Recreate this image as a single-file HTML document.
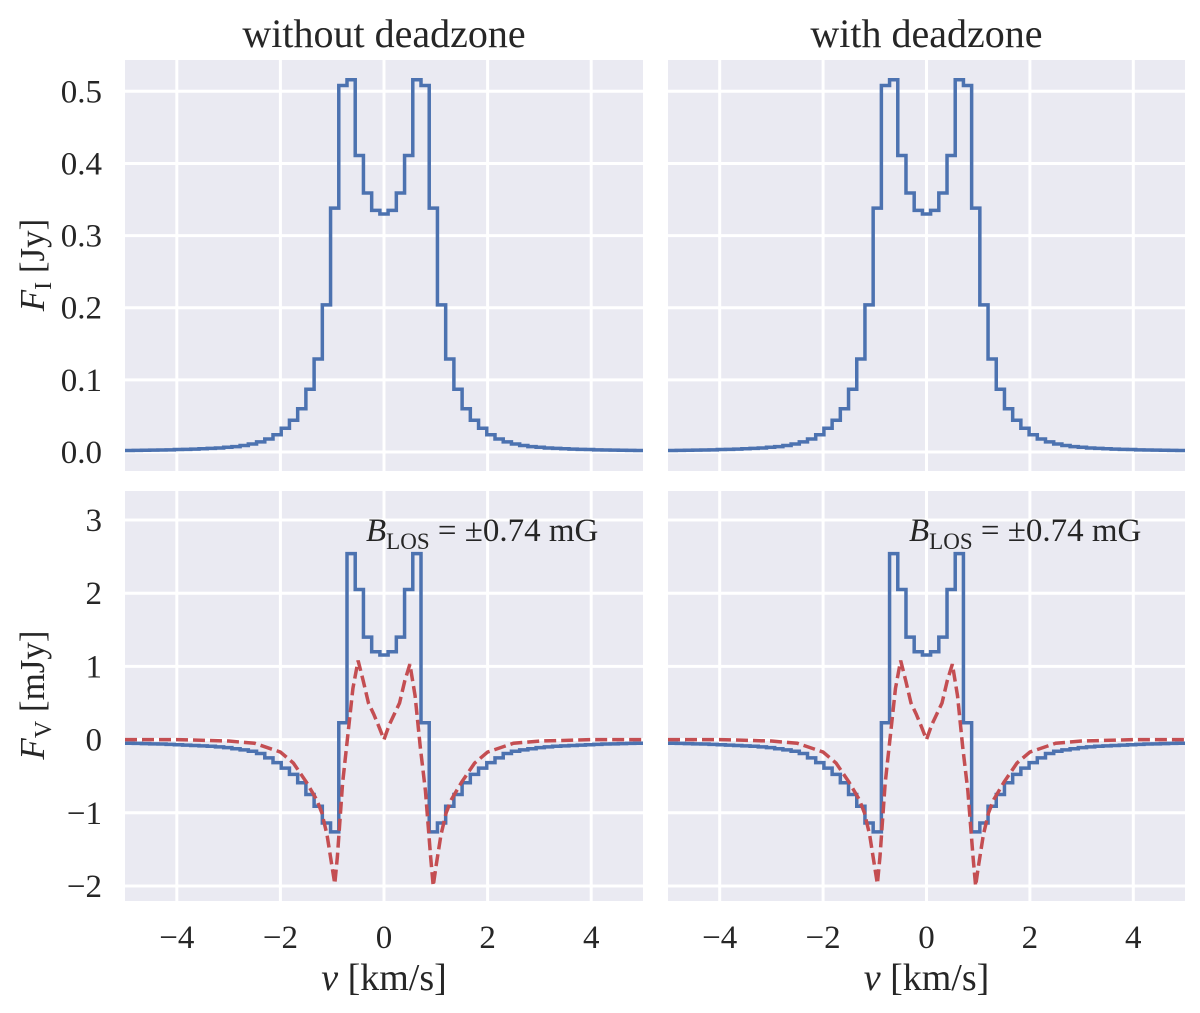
<!DOCTYPE html>
<html><head><meta charset="utf-8"><style>
html,body{margin:0;padding:0;background:#fff}
svg{display:block;font-family:"Liberation Serif",serif}
</style></head><body>
<svg id="chart" width="1200" height="1013" viewBox="0 0 1200 1013" xmlns="http://www.w3.org/2000/svg"></svg>
<script>
// ---- data ----
const binCount = 63;
const vMin = -5, vMax = 5;
// Stokes I flux per bin (Jy), bins k=-31..31
const fluxIHalf = [0.002,0.0022,0.0024,0.0026,0.0028,0.003,0.0034,0.0037,0.004,0.0045,0.005,0.0055,0.0065,0.0075,0.009,0.011,0.014,
  0.018,0.024,0.033,0.044,0.060,0.087,0.129,0.204,0.338,0.508,0.516,0.411,0.359,0.335];
const fluxICenter = 0.330;
// Stokes V flux per bin (mJy)
const fluxVHalf = [-0.05,-0.052,-0.055,-0.058,-0.06,-0.065,-0.07,-0.075,-0.08,-0.085,-0.09,-0.10,-0.11,-0.125,-0.14,-0.16,
  -0.19,-0.25,-0.315,-0.39,-0.475,-0.59,-0.75,-0.91,-1.14,-1.26,0.23,2.54,2.05,1.40,1.20];
const fluxVCenter = 1.155;
// dashed model curve (mJy)
const modelV = [-5,-4,-3,-2.5,-2,-1.75,-1.5,-1.3,-1.2,-1.1,-1.0,-0.95,-0.9,-0.8,-0.7,-0.6,-0.5,-0.4,-0.3,-0.2,-0.1,0,
  0.1,0.2,0.3,0.4,0.5,0.6,0.7,0.8,0.9,0.95,1.0,1.1,1.2,1.3,1.5,1.75,2,2.5,3,4,5];
const modelF = [0,0,-0.02,-0.05,-0.17,-0.32,-0.58,-0.82,-1.0,-1.3,-1.75,-1.97,-1.6,-0.6,0.05,0.7,1.08,0.8,0.5,0.35,0.18,0,
  0.2,0.35,0.5,0.8,1.03,0.6,-0.1,-0.7,-1.6,-2.0,-1.75,-1.3,-1.0,-0.82,-0.58,-0.32,-0.17,-0.05,-0.02,0,0];
const xTicks = [-4,-2,0,2,4];
const xTickLabels = ["\u22124","\u22122","0","2","4"];
const yTicksI = [0,0.1,0.2,0.3,0.4,0.5];
const yTickLabelsI = ["0.0","0.1","0.2","0.3","0.4","0.5"];
const yTicksV = [-2,-1,0,1,2,3];
const yTickLabelsV = ["\u22122","\u22121","0","1","2","3"];
const titles = ["without deadzone","with deadzone"];

const fluxI = fluxIHalf.concat([fluxICenter], fluxIHalf.slice().reverse());
const fluxV = fluxVHalf.concat([fluxVCenter], fluxVHalf.slice().reverse());

const NS="http://www.w3.org/2000/svg";
const svg=document.getElementById('chart');
function mk(tag,attrs,parent){const e=document.createElementNS(NS,tag);for(const k in attrs)e.setAttribute(k,attrs[k]);(parent||svg).appendChild(e);return e;}

const cols=[{x0:125,x1:643},{x0:668,x1:1185}];
const rows=[{y0:60,y1:471,zero:452,scale:721.4},{y0:491,y1:901,zero:739.6,scale:73.2}];

cols.forEach((c,ci)=>{
  const sx=v=>c.x0+(v-vMin)/(vMax-vMin)*(c.x1-c.x0);
  rows.forEach((r,ri)=>{
    const sy=v=>r.zero-v*r.scale;
    const g=mk('g',{});
    
    
    const clipId='clip'+ci+ri;
    const cp=mk('clipPath',{id:clipId},g);
    mk('rect',{x:c.x0,y:r.y0,width:c.x1-c.x0,height:r.y1-r.y0},cp);
    const bg=mk('rect',{x:c.x0,y:r.y0,width:c.x1-c.x0,height:r.y1-r.y0,fill:'#eaeaf2'},g);
    
    
    xTicks.forEach(t=>{const l=mk('line',{x1:sx(t),x2:sx(t),y1:r.y0,y2:r.y1,stroke:'#fff','stroke-width':3},g);
      });
    const yt=ri?yTicksV:yTicksI, yl=ri?yTickLabelsV:yTickLabelsI;
    yt.forEach((t,i)=>{const l=mk('line',{x1:c.x0,x2:c.x1,y1:sy(t),y2:sy(t),stroke:'#fff','stroke-width':3},g);
      
      if(ci===0){const tx=mk('text',{x:102,y:sy(t)+11,'text-anchor':'end','font-size':33,fill:'#262626'},g);tx.textContent=yl[i];
        }
    });
    const data=ri?fluxV:fluxI;
    const w=(vMax-vMin)/binCount;
    let d='';
    data.forEach((v,i)=>{const a=sx(vMin+i*w),b=sx(vMin+(i+1)*w),y=sy(v);d+=(i?'L':'M')+a.toFixed(2)+','+y.toFixed(2)+'L'+b.toFixed(2)+','+y.toFixed(2);});
    const p=mk('path',{d:d,fill:'none',stroke:'#4c72b0','stroke-width':3.5,'stroke-linejoin':'miter','clip-path':'url(#'+clipId+')'},g);
    
    
    if(ri===1){
      let dm='';modelV.forEach((v,i)=>{dm+=(i?'L':'M')+sx(v).toFixed(2)+','+sy(modelF[i]).toFixed(2);});
      const pm=mk('path',{d:dm,fill:'none',stroke:'#c44e52','stroke-width':3.5,'stroke-dasharray':'12,5','clip-path':'url(#'+clipId+')'},g);
      
      
      const ann=mk('text',{x:c.x0+241,y:541,'font-size':33,fill:'#262626'},g);
      ann.innerHTML='<tspan font-style="italic">B</tspan><tspan font-size="23" dy="8">LOS</tspan><tspan dy="-8"> = ±0.74 mG</tspan>';
      
      
      xTicks.forEach((t,i)=>{const tx=mk('text',{x:sx(t),y:948,'text-anchor':'middle','font-size':33,fill:'#262626'},g);tx.textContent=xTickLabels[i];
        });
      const xl=mk('text',{x:(c.x0+c.x1)/2,y:990,'text-anchor':'middle','font-size':38,fill:'#262626'},g);
      xl.innerHTML='<tspan font-style="italic">v</tspan> [km/s]';
      
      
    } else {
      const tt=mk('text',{x:(c.x0+c.x1)/2,y:47,'text-anchor':'middle','font-size':40,fill:'#262626'},g);
      tt.textContent=titles[ci];
      
      
    }
  });
});
const yl1=mk('text',{transform:'translate(44,265) rotate(-90)','text-anchor':'middle','font-size':35,fill:'#262626'});
yl1.innerHTML='<tspan font-style="italic">F</tspan><tspan font-size="24" dy="7">I</tspan><tspan dy="-7"> [Jy]</tspan>';


const yl2=mk('text',{transform:'translate(44,695) rotate(-90)','text-anchor':'middle','font-size':35,fill:'#262626'});
yl2.innerHTML='<tspan font-style="italic">F</tspan><tspan font-size="24" dy="7">V</tspan><tspan dy="-7"> [mJy]</tspan>';


</script>
</body></html>
